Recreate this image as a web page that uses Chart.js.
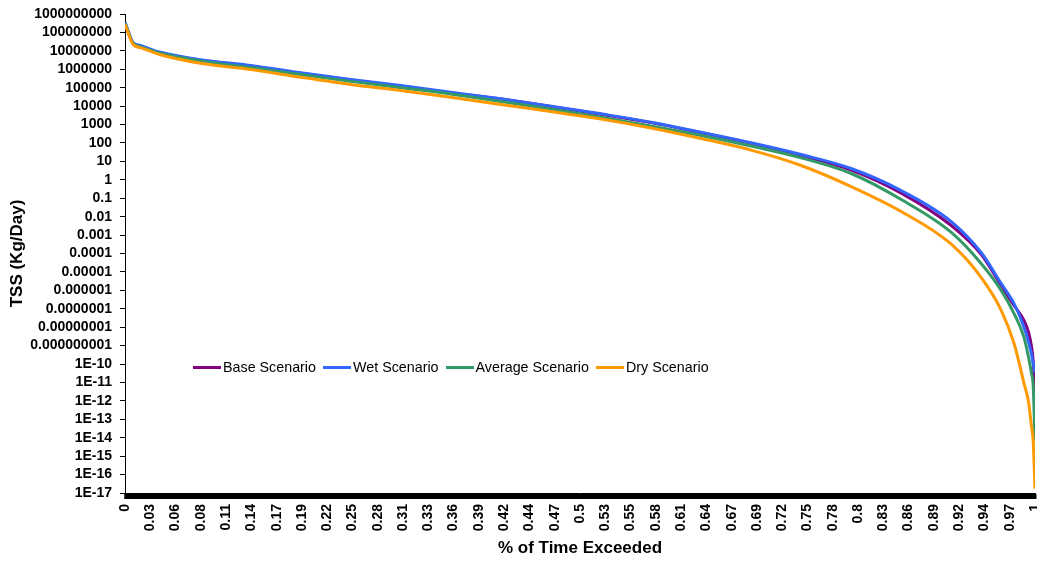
<!DOCTYPE html>
<html><head><meta charset="utf-8">
<script src="https://cdn.jsdelivr.net/npm/chart.js@4/dist/chart.umd.min.js"></script>
<style>
html,body{margin:0;padding:0;background:#fff;}
#wrap{position:relative;width:1037px;height:565px;}
canvas{display:block;}
#legend{position:absolute;left:193px;top:358px;display:flex;align-items:center;font-family:"Liberation Sans",Arial,sans-serif;font-size:14.3px;color:#000;white-space:nowrap;line-height:18px;}
.item{display:flex;align-items:center;margin-right:7px;}
.sw{width:28px;height:3px;margin-right:2px;}
</style></head><body>
<div id="wrap"><canvas id="c" width="1037" height="565"></canvas><div id="legend"></div></div>
<script>
const pctExceeded = [0, 0.009, 0.017, 0.038, 0.083, 0.138, 0.193, 0.248, 0.303, 0.358, 0.413, 0.468, 0.523, 0.578, 0.633, 0.688, 0.743, 0.798, 0.853, 0.908, 0.941, 0.963, 0.977, 0.988, 0.993, 0.996, 0.998, 1.0];
const baseScenario = [3.2e8, 2.6e7, 1.8e7, 8.0e6, 3.1e6, 1.5e6, 6.0e5, 2.6e5, 1.2e5, 5.2e4, 2.4e4, 9.6e3, 3.6e3, 1.27e3, 360, 95, 21, 3.4, 0.19, 3.3e-3, 8.8e-5, 1.8e-6, 1.5e-7, 2.3e-8, 5.1e-9, 1.0e-9, 1.5e-10, 1.9e-12];
const wetScenario = [3.5e8, 2.8e7, 1.95e7, 8.6e6, 3.3e6, 1.6e6, 6.4e5, 2.8e5, 1.3e5, 5.7e4, 2.5e4, 1.0e4, 3.8e3, 1.34e3, 380, 103, 23.6, 4.1, 0.26, 5.4e-3, 1.1e-4, 2.3e-6, 1.9e-7, 9.5e-9, 1.5e-9, 3.7e-10, 1.06e-10, 3.5e-11];
const averageScenario = [3.0e8, 2.5e7, 1.7e7, 7.6e6, 2.8e6, 1.25e6, 5.2e5, 2.2e5, 1.0e5, 4.5e4, 1.78e4, 7.0e3, 2.5e3, 830, 254, 68, 15.6, 2.2, 0.085, 1.4e-3, 2.8e-5, 9.7e-7, 5.5e-8, 2.7e-9, 2.2e-10, 3.5e-11, 6.8e-12, 7e-15];
const dryScenario = [2.8e8, 2.2e7, 1.5e7, 6.3e6, 2.1e6, 9.7e5, 3.7e5, 1.5e5, 7.0e4, 3.0e4, 1.22e4, 5.1e3, 2.0e3, 650, 174, 41, 6.0, 0.43, 0.019, 3.2e-4, 4.9e-6, 8.0e-8, 1.3e-9, 8.7e-12, 8.1e-13, 4.6e-14, 7e-15, 1.7e-17];
const seriesNames = ["Base Scenario", "Wet Scenario", "Average Scenario", "Dry Scenario"];
const seriesColors = ["#800080", "#3366FF", "#339966", "#FF9900"];
const xTickLabels = ["0","0.03","0.06","0.08","0.11","0.14","0.17","0.19","0.22","0.25","0.28","0.31","0.33","0.36","0.39","0.42","0.44","0.47","0.5","0.53","0.55","0.58","0.61","0.64","0.67","0.69","0.72","0.75","0.78","0.8","0.83","0.86","0.89","0.92","0.94","0.97","1"];
const yTickLabels = ["1000000000","100000000","10000000","1000000","100000","10000","1000","100","10","1","0.1","0.01","0.001","0.0001","0.00001","0.000001","0.0000001","0.00000001","0.000000001","1E-10","1E-11","1E-12","1E-13","1E-14","1E-15","1E-16","1E-17"];

const allSeries = [baseScenario, wetScenario, averageScenario, dryScenario];
const SUB = 32; // minor tick marks per labelled category step
const nSteps = (xTickLabels.length - 1) * SUB;

const datasets = allSeries.map((vals, i) => ({
  label: seriesNames[i],
  data: vals.map((v, j) => ({x: pctExceeded[j], y: v})),
  borderColor: seriesColors[i],
  backgroundColor: seriesColors[i],
  borderWidth: 3,
  pointRadius: 0,
  fill: false,
  cubicInterpolationMode: 'monotone',
  order: allSeries.length - i
}));

const font = '"Liberation Sans", Arial, sans-serif';

new Chart(document.getElementById('c'), {
  type: 'line',
  data: { datasets },
  options: {
    responsive: false,
    animation: false,
    devicePixelRatio: 1,
    layout: { padding: { top: 14, right: 2, left: 0, bottom: 0 } },
    plugins: { legend: { display: false }, tooltip: { enabled: false } },
    scales: {
      x: {
        type: 'linear',
        min: 0, max: 1,
        afterBuildTicks: (s) => {
          const t = [];
          for (let i = 0; i <= nSteps; i++) t.push({ value: i / nSteps });
          s.ticks = t;
        },
        afterFit: (s) => { s.height = 72; s.paddingLeft = 0; s.paddingRight = 0; },
        ticks: {
          autoSkip: false,
          minRotation: 90, maxRotation: 90,
          padding: 5,
          color: '#000',
          font: { family: font, size: 14, weight: 'bold' },
          callback: (v, i) => (i % SUB === 0 ? xTickLabels[i / SUB] : '')
        },
        grid: { drawOnChartArea: false, drawTicks: true, tickLength: 6, tickWidth: 2, tickColor: '#000', color: '#000' },
        border: { display: true, color: '#000', width: 1 },
        title: { display: true, text: '% of Time Exceeded', color: '#000', font: { family: font, size: 17, weight: 'bold' }, padding: { top: 0, bottom: 6 } }
      },
      y: {
        type: 'logarithmic',
        min: 1e-17, max: 1e9,
        afterBuildTicks: (s) => { s.ticks = yTickLabels.map(l => ({ value: Number(l) })); },
        afterFit: (s) => { s.width = 125; s.paddingTop = 0; s.paddingBottom = 0; },
        ticks: {
          autoSkip: false,
          padding: 8,
          color: '#000',
          font: { family: font, size: 14, weight: 'bold' },
          callback: (v, i) => yTickLabels[i]
        },
        grid: { drawOnChartArea: false, drawTicks: true, tickLength: 5, tickColor: '#000', color: '#000' },
        border: { display: true, color: '#000', width: 1 },
        title: { display: true, text: 'TSS (Kg/Day)', color: '#000', font: { family: font, size: 17, weight: 'bold' }, padding: { top: 7, bottom: 0 } }
      }
    }
  }
});

const leg = document.getElementById('legend');
seriesNames.forEach((n, i) => {
  const it = document.createElement('div'); it.className = 'item';
  const sw = document.createElement('div'); sw.className = 'sw'; sw.style.background = seriesColors[i];
  const tx = document.createElement('span'); tx.textContent = n;
  it.appendChild(sw); it.appendChild(tx); leg.appendChild(it);
});
</script>
</body></html>
